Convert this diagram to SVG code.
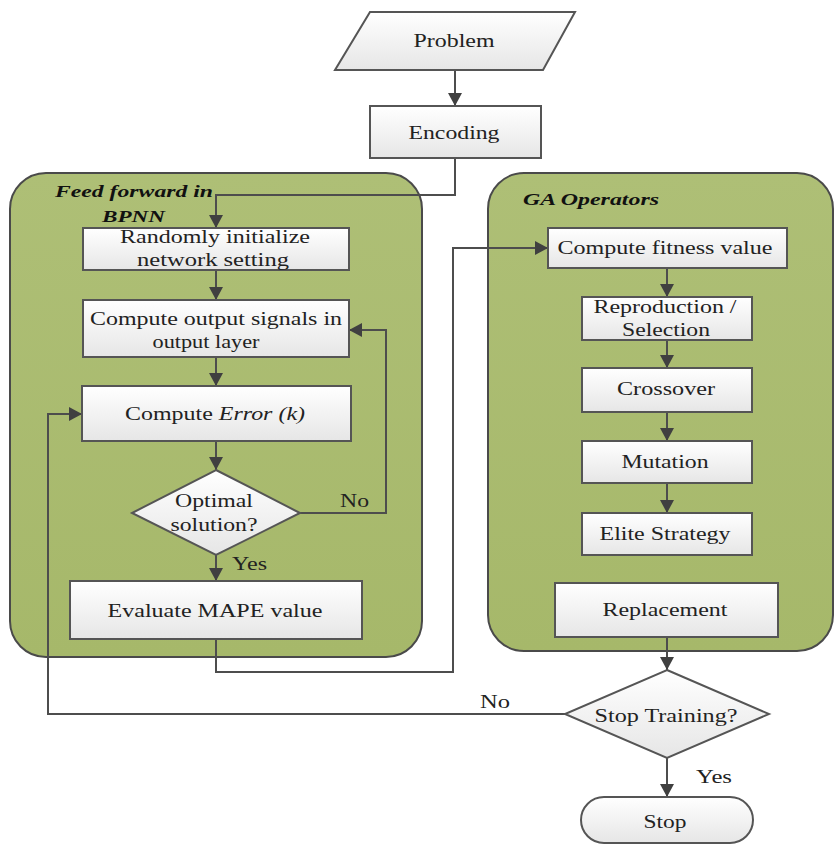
<svg xmlns="http://www.w3.org/2000/svg" width="835" height="845" viewBox="0 0 835 845">
<defs>
<linearGradient id="boxg" x1="0" y1="0" x2="0" y2="1">
<stop offset="0" stop-color="#ffffff"/>
<stop offset="1" stop-color="#e6e6e6"/>
</linearGradient>
<linearGradient id="greeng" x1="0" y1="0" x2="0" y2="1">
<stop offset="0" stop-color="#aebf76"/>
<stop offset="1" stop-color="#a6b86a"/>
</linearGradient>
<marker id="arr" markerUnits="userSpaceOnUse" markerWidth="14" markerHeight="14" refX="13" refY="7" orient="auto">
<path d="M0,0 L13,7 L0,14 z" fill="#404040"/>
</marker>
</defs>
<style>
.cont{fill:url(#greeng);stroke:#4a4a4a;stroke-width:2}
.box{fill:url(#boxg);stroke:#555;stroke-width:2}
.t{font-family:"Liberation Serif","Times New Roman",serif;font-size:19px;fill:#222;text-anchor:middle}
.lbl{font-family:"Liberation Serif","Times New Roman",serif;font-size:19px;fill:#222}
.gt{font-family:"Liberation Serif","Times New Roman",serif;font-size:17px;font-weight:bold;font-style:italic;fill:#111}
.c{fill:none;stroke:#4d4d4d;stroke-width:2}
.ca{fill:none;stroke:#4d4d4d;stroke-width:2;marker-end:url(#arr)}
</style>
<rect width="835" height="845" fill="#ffffff"/>
<g id="group-feedforward">
<rect class="cont" x="10" y="173" width="412" height="484" rx="36"/>
<text class="gt" x="55" y="197" textLength="158" lengthAdjust="spacingAndGlyphs">Feed forward in</text>
<text class="gt" x="102" y="222" textLength="63" lengthAdjust="spacingAndGlyphs">BPNN</text>
</g>
<g id="group-ga">
<rect class="cont" x="488" y="173" width="345" height="478" rx="36"/>
<text class="gt" x="523" y="205" textLength="136" lengthAdjust="spacingAndGlyphs">GA Operators</text>
</g>
<g id="connectors">
<path class="ca" d="M455,70 V106"/>
<path class="ca" d="M455,158 V195 H216 V228"/>
<path class="ca" d="M216,270 V300"/>
<path class="ca" d="M216,357 V386"/>
<path class="ca" d="M216,441 V470"/>
<path class="ca" d="M300,513 H386 V330 H349"/>
<path class="ca" d="M216,555 V581"/>
<path class="ca" d="M216,639 V672 H453 V248 H548"/>
<path class="ca" d="M667,268 V297"/>
<path class="ca" d="M667,340 V368"/>
<path class="ca" d="M667,412 V441"/>
<path class="ca" d="M667,483 V513"/>
<path class="ca" d="M667,637 V670"/>
<path class="ca" d="M667,758 V797"/>
<path class="ca" d="M565,714 H48 V414 H82"/>
<text class="lbl" x="340" y="507" textLength="29" lengthAdjust="spacingAndGlyphs">No</text>
<text class="lbl" x="232" y="570" textLength="35" lengthAdjust="spacingAndGlyphs">Yes</text>
<text class="lbl" x="480" y="708" textLength="30" lengthAdjust="spacingAndGlyphs">No</text>
<text class="lbl" x="696" y="783" textLength="36" lengthAdjust="spacingAndGlyphs">Yes</text>
</g>
<g id="node-problem">
<polygon class="box" points="370,12 575,12 543,70 335,70"/>
<text class="t" x="454" y="47" textLength="81" lengthAdjust="spacingAndGlyphs">Problem</text>
</g>
<g id="node-encoding">
<rect class="box" x="370" y="106" width="171" height="52"/>
<text class="t" x="454" y="139" textLength="91" lengthAdjust="spacingAndGlyphs">Encoding</text>
</g>
<g id="node-random">
<rect class="box" x="83" y="228" width="266" height="42"/>
<text class="t" x="215" y="243" textLength="190" lengthAdjust="spacingAndGlyphs">Randomly initialize</text>
<text class="t" x="213" y="266" textLength="152" lengthAdjust="spacingAndGlyphs">network setting</text>
</g>
<g id="node-output">
<rect class="box" x="83" y="300" width="266" height="57"/>
<text class="t" x="216" y="325" textLength="252" lengthAdjust="spacingAndGlyphs">Compute output signals in</text>
<text class="t" x="206" y="348" textLength="107" lengthAdjust="spacingAndGlyphs">output layer</text>
</g>
<g id="node-error">
<rect class="box" x="82" y="386" width="269" height="55"/>
<text class="t" x="215" y="420" textLength="180" lengthAdjust="spacingAndGlyphs">Compute <tspan font-style="italic">Error (k)</tspan></text>
</g>
<g id="node-optimal">
<polygon class="box" points="216,470 300,513 216,555 132,513"/>
<text class="t" x="214" y="507" textLength="78" lengthAdjust="spacingAndGlyphs">Optimal</text>
<text class="t" x="214" y="531" textLength="87" lengthAdjust="spacingAndGlyphs">solution?</text>
</g>
<g id="node-mape">
<rect class="box" x="70" y="581" width="292" height="58"/>
<text class="t" x="215" y="617" textLength="215" lengthAdjust="spacingAndGlyphs">Evaluate MAPE value</text>
</g>
<g id="node-fitness">
<rect class="box" x="548" y="228" width="239" height="40"/>
<text class="t" x="665" y="254" textLength="215" lengthAdjust="spacingAndGlyphs">Compute fitness value</text>
</g>
<g id="node-reproduction">
<rect class="box" x="582" y="297" width="170" height="43"/>
<text class="t" x="665" y="313" textLength="143" lengthAdjust="spacingAndGlyphs">Reproduction /</text>
<text class="t" x="666" y="336" textLength="88" lengthAdjust="spacingAndGlyphs">Selection</text>
</g>
<g id="node-crossover">
<rect class="box" x="582" y="368" width="170" height="44"/>
<text class="t" x="666" y="395" textLength="98" lengthAdjust="spacingAndGlyphs">Crossover</text>
</g>
<g id="node-mutation">
<rect class="box" x="582" y="441" width="170" height="42"/>
<text class="t" x="665" y="468" textLength="87" lengthAdjust="spacingAndGlyphs">Mutation</text>
</g>
<g id="node-elite">
<rect class="box" x="582" y="513" width="170" height="42"/>
<text class="t" x="665" y="540" textLength="131" lengthAdjust="spacingAndGlyphs">Elite Strategy</text>
</g>
<g id="node-replacement">
<rect class="box" x="555" y="583" width="223" height="54"/>
<text class="t" x="665" y="616" textLength="125" lengthAdjust="spacingAndGlyphs">Replacement</text>
</g>
<g id="node-stoptraining">
<polygon class="box" points="667,670 769,714 667,758 565,714"/>
<text class="t" x="666" y="722" textLength="143" lengthAdjust="spacingAndGlyphs">Stop Training?</text>
</g>
<g id="node-stop">
<rect class="box" x="581" y="797" width="172" height="46" rx="23"/>
<text class="t" x="665" y="828" textLength="43" lengthAdjust="spacingAndGlyphs">Stop</text>
</g>
</svg>
